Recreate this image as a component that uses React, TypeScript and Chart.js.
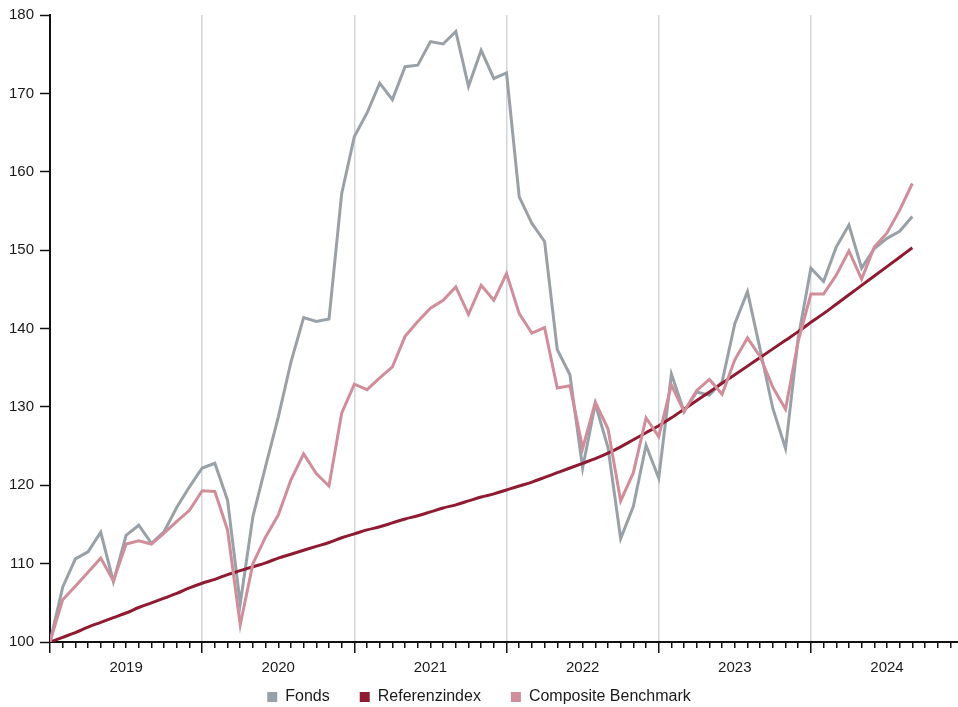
import React, { useEffect, useRef } from "react";
import { Chart, registerables } from "chart.js";

Chart.register(...registerables);

// Monthly index values (month 0 = start of 2019)
const fonds = [
  100.0, 107.0, 110.6, 111.5, 114.0, 107.7, 113.6, 114.9, 112.6, 114.1, 117.2, 119.8,
  122.2, 122.8, 118.1, 104.9, 116.0, 122.4, 128.7, 135.7, 141.4, 140.9, 141.2, 157.2,
  164.5, 167.5, 171.3, 169.2, 173.4, 173.6, 176.6, 176.3, 177.9, 170.9, 175.5, 171.9,
  172.6, 156.8, 153.4, 151.1, 137.3, 134.1, 122.2, 130.4, 124.8, 113.2, 117.3, 125.1,
  120.9, 134.2, 129.4, 131.9, 131.5, 133.2, 140.6, 144.7, 137.3, 129.8, 124.7, 138.8,
  147.7, 146.0, 150.4, 153.2, 147.7, 150.2, 151.5, 152.4, 154.3,
];

const referenzindex = [
  100.0, 100.6, 101.2, 101.9, 102.5, 103.1, 103.7, 104.4, 105.0, 105.6, 106.2, 106.9,
  107.5, 108.0, 108.6, 109.1, 109.6, 110.1, 110.7, 111.2, 111.7, 112.2, 112.7, 113.3,
  113.8, 114.3, 114.7, 115.2, 115.7, 116.1, 116.6, 117.1, 117.5, 118.0, 118.5, 118.9,
  119.4, 119.9, 120.4, 121.0, 121.6, 122.2, 122.8, 123.4, 124.1, 124.9, 125.8, 126.7,
  127.6, 128.6, 129.7, 130.8, 131.9, 133.0, 134.1, 135.2, 136.3, 137.4, 138.5, 139.6,
  140.8, 141.9, 143.1, 144.3, 145.5, 146.7, 147.9, 149.1, 150.3,
];

const composite = [
  100.0, 105.4, 107.1, 108.9, 110.7, 107.8, 112.5, 112.9, 112.5, 113.9, 115.4, 116.8,
  119.3, 119.2, 114.3, 102.2, 110.0, 113.4, 116.2, 120.7, 124.0, 121.5, 119.9, 129.2,
  132.9, 132.2, 133.7, 135.1, 139.0, 140.9, 142.6, 143.6, 145.3, 141.8, 145.5, 143.6,
  147.0, 141.9, 139.4, 140.1, 132.4, 132.7, 124.7, 130.6, 127.2, 118.0, 121.6, 128.6,
  126.2, 132.8, 129.4, 132.1, 133.5, 131.6, 136.0, 138.8, 136.4, 132.5, 129.7, 138.4,
  144.4, 144.4, 146.8, 149.9, 146.3, 150.4, 152.2, 155.1, 158.5,
];

const yearLabels = ["2019", "2020", "2021", "2022", "2023", "2024"];
const monthsOnAxis = 72; // minor ticks 0..71
const xMax = 71.6;
const yMin = 100;
const yMax = 180;
const yStep = 10;

const seriesNames = ["Fonds", "Referenzindex", "Composite Benchmark"];
const seriesColors = ["#99a1a8", "#8e1b31", "#cf8e99"];
const seriesOrder = [2, 1, 0]; // pink on top, grey at the bottom

const FONT = "'Liberation Sans', Arial, Helvetica, sans-serif";
const TEXT = "#1a1a1a";

// moves the legend up so it sits closer to the axis labels
const legendShift = {
  id: "legendShift",
  afterLayout(chart: any) {
    const l = chart.legend;
    if (l) {
      l.top -= 19;
      l.bottom -= 19;
    }
  },
};

export default function App() {
  const ref = useRef<HTMLCanvasElement | null>(null);

  useEffect(() => {
    document.body.style.margin = "0";
    const canvas = ref.current;
    if (!canvas) return;
    const toPts = (arr: number[]) => arr.map((v, i) => ({ x: i, y: v }));
    const seriesData = [fonds, referenzindex, composite];

    const chart = new Chart(canvas, {
      type: "line",
      data: {
        datasets: seriesNames.map((name, i) => ({
          label: name,
          data: toPts(seriesData[i]),
          borderColor: seriesColors[i],
          backgroundColor: seriesColors[i],
          borderWidth: 3,
          pointRadius: 0,
          tension: 0,
          order: seriesOrder[i],
          cubicInterpolationMode: i === 1 ? "monotone" : "default",
          fill: false,
        })),
      },
      plugins: [legendShift],
      options: {
        animation: false,
        responsive: false,
        devicePixelRatio: 1,
        layout: { padding: { top: 15, right: 0, bottom: -27, left: 0 } },
        plugins: {
          tooltip: { enabled: false },
          legend: {
            position: "bottom",
            align: "center",
            labels: {
              boxWidth: 10,
              boxHeight: 10,
              padding: 30,
              color: TEXT,
              font: { family: FONT, size: 16 },
              generateLabels: () =>
                seriesNames.map((name, i) => ({
                  text: name,
                  fillStyle: seriesColors[i],
                  strokeStyle: seriesColors[i],
                  lineWidth: 0,
                  hidden: false,
                  datasetIndex: i,
                  fontColor: TEXT,
                })),
            },
          },
        },
        scales: {
          x: {
            type: "linear",
            min: 0,
            max: xMax,
            afterBuildTicks: (scale: any) => {
              const t: { value: number }[] = [];
              for (let m = 0; m < monthsOnAxis; m++) t.push({ value: m });
              scale.ticks = t;
            },
            afterFit: (scale: any) => {
              scale.height = 36;
            },
            border: { display: true, color: "#111", width: 2 },
            grid: {
              drawOnChartArea: true,
              drawTicks: true,
              tickLength: 11,
              tickWidth: 1.5,
              tickColor: "#111",
              lineWidth: 1.5,
              color: (ctx: any) => {
                const v = ctx.tick ? ctx.tick.value : -1;
                return v > 0 && v % 12 === 0 ? "#d2d6da" : "rgba(0,0,0,0)";
              },
              tickBorderDash: (ctx: any) => {
                const v = ctx.tick ? ctx.tick.value : -1;
                return v % 12 === 0 ? [] : [5, 40];
              },
            },
            ticks: {
              autoSkip: false,
              maxRotation: 0,
              minRotation: 0,
              padding: 6,
              color: TEXT,
              font: { family: FONT, size: 15 },
              callback: (value: any) => {
                const v = Number(value);
                if (v % 12 === 6) {
                  const idx = (v - 6) / 12;
                  return yearLabels[idx] ?? "";
                }
                return "";
              },
            },
          },
          y: {
            type: "linear",
            min: yMin,
            max: yMax,
            afterFit: (scale: any) => {
              scale.width = 50;
            },
            border: { display: true, color: "#111", width: 2 },
            grid: {
              drawOnChartArea: false,
              drawTicks: true,
              tickLength: 10,
              tickWidth: 1.5,
              tickColor: "#111",
            },
            ticks: {
              stepSize: yStep,
              padding: 6,
              color: TEXT,
              font: { family: FONT, size: 15 },
            },
          },
        },
      },
    } as any);

    return () => chart.destroy();
  }, []);

  return (
    <div style={{ position: "relative", width: 958, height: 707 }}>
      <canvas ref={ref} width={958} height={707} style={{ display: "block" }} />
    </div>
  );
}
